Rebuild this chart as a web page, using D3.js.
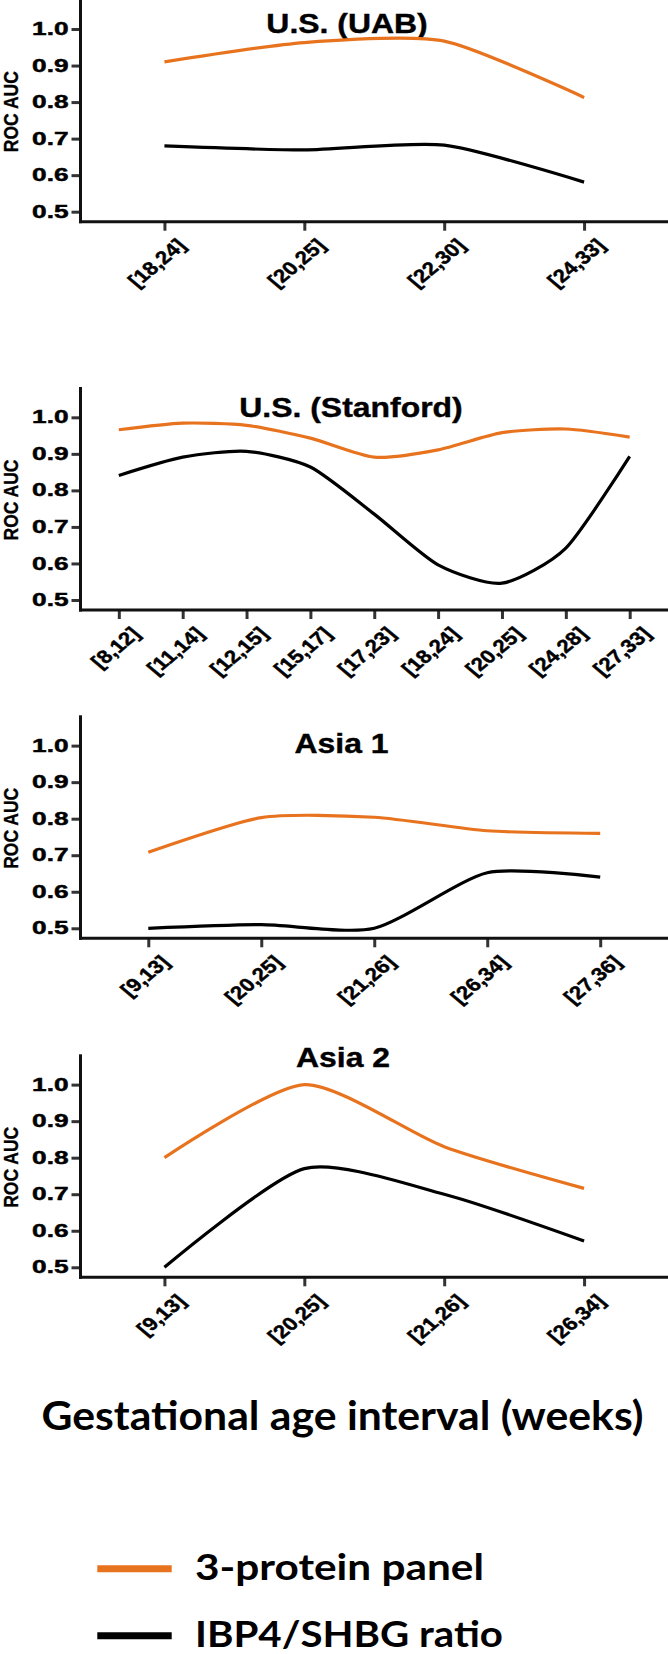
<!DOCTYPE html>
<html>
<head>
<meta charset="utf-8">
<script src="https://cdnjs.cloudflare.com/ajax/libs/d3/7.8.5/d3.min.js"></script>
<style>
  html, body { margin: 0; padding: 0; background: #fff; }
  svg { display: block; }
</style>
</head>
<body>
<div id="chart"></div>
<script>
// series
const seriesNames = ['3-protein panel', 'IBP4/SHBG ratio'];
const seriesColors = ['#E8731E', '#000000'];

// U.S. (UAB)
const uabIntervals = ['[18,24]', '[20,25]', '[22,30]', '[24,33]'];
const uabPanel = [0.91, 0.963, 0.967, 0.812];
const uabRatio = [0.68, 0.669, 0.682, 0.581];

// U.S. (Stanford)
const stanfordIntervals = ['[8,12]', '[11,14]', '[12,15]', '[15,17]', '[17,23]', '[18,24]', '[20,25]', '[24,28]', '[27,33]'];
const stanfordPanel = [0.966, 0.984, 0.978, 0.943, 0.891, 0.911, 0.958, 0.968, 0.946];
const stanfordRatio = [0.841, 0.891, 0.907, 0.864, 0.735, 0.596, 0.546, 0.642, 0.893];

// Asia 1
const asia1Intervals = ['[9,13]', '[20,25]', '[21,26]', '[26,34]', '[27,36]'];
const asia1Panel = [0.708, 0.803, 0.804, 0.767, 0.760];
const asia1Ratio = [0.50, 0.51, 0.50, 0.652, 0.640];

// Asia 2
const asia2Intervals = ['[9,13]', '[20,25]', '[21,26]', '[26,34]'];
const asia2Panel = [0.80, 1.00, 0.83, 0.716];
const asia2Ratio = [0.50, 0.77, 0.70, 0.572];

const panelTitles = ['U.S. (UAB)', 'U.S. (Stanford)', 'Asia 1', 'Asia 2'];
const yTicks = [0.5, 0.6, 0.7, 0.8, 0.9, 1.0];
const yDomain = [0.4726, 1.083];
const yLabel = 'ROC AUC';
const xLabel = 'Gestational age interval (weeks)';

const config = {
  width: 668,
  height: 1654,
  axisX: 80.5,
  axisRight: 668,
  plotHeight: 223,
  font: "'Liberation Sans', Arial, Helvetica, sans-serif",
  bigFont: "Lato, 'Open Sans', sans-serif"
};

const panels = [
  {title: panelTitles[0], cats: uabIntervals, values: [uabPanel, uabRatio], bottom: 221.7, titleX: 347, titleY: 33},
  {title: panelTitles[1], cats: stanfordIntervals, values: [stanfordPanel, stanfordRatio], bottom: 610, titleX: 351, titleY: 416.7},
  {title: panelTitles[2], cats: asia1Intervals, values: [asia1Panel, asia1Ratio], bottom: 938.3, titleX: 341.5, titleY: 753.3},
  {title: panelTitles[3], cats: asia2Intervals, values: [asia2Panel, asia2Ratio], bottom: 1277.3, titleX: 343, titleY: 1067.3}
];

const svg = d3.select('#chart').append('svg')
  .attr('width', config.width)
  .attr('height', config.height)
  .attr('viewBox', `0 0 ${config.width} ${config.height}`);

function boldText(sel, size) {
  return sel
    .attr('fill', '#000')
    .attr('stroke', '#000')
    .attr('stroke-width', 0.45)
    .style('font-family', config.font)
    .style('font-weight', 'bold')
    .style('font-size', size);
}

function drawPanel(p) {
  const top = p.bottom - config.plotHeight;
  const x = d3.scalePoint()
    .domain(p.cats)
    .range([config.axisX, config.axisRight])
    .padding(0.6);
  const y = d3.scaleLinear()
    .domain(yDomain)
    .range([p.bottom, top]);

  const g = svg.append('g');

  // y axis ticks + labels
  const yAxis = g.append('g')
    .attr('transform', `translate(${config.axisX},0)`)
    .call(d3.axisLeft(y).tickValues(yTicks).tickSize(9).tickPadding(2).tickFormat(d3.format('.1f')));
  yAxis.select('.domain').remove();
  yAxis.selectAll('.tick line').attr('stroke', '#333').attr('stroke-width', 3);
  boldText(yAxis.selectAll('.tick text'), '17.5px')
    .attr('x', -12 / 1.5)
    .attr('transform', 'scale(1.5,1)');

  // x axis ticks + labels
  const xAxis = g.append('g')
    .attr('transform', `translate(0,${p.bottom})`)
    .call(d3.axisBottom(x).tickSize(9));
  xAxis.select('.domain').remove();
  xAxis.selectAll('.tick line').attr('stroke', '#333').attr('stroke-width', 3);
  boldText(xAxis.selectAll('.tick text'), '18.5px')
    .attr('x', 0)
    .attr('y', 0)
    .attr('dy', 0)
    .attr('text-anchor', 'end')
    .attr('transform', 'translate(22,25) scale(1.2,1) rotate(-45)');

  // axis lines
  g.append('line')
    .attr('x1', config.axisX).attr('x2', config.axisX)
    .attr('y1', top).attr('y2', p.bottom + 1.5)
    .attr('stroke', '#111').attr('stroke-width', 3);
  g.append('line')
    .attr('x1', config.axisX - 1.5).attr('x2', config.axisRight)
    .attr('y1', p.bottom).attr('y2', p.bottom)
    .attr('stroke', '#111').attr('stroke-width', 3);

  // y label
  boldText(g.append('text'), '17.5px')
    .attr('transform', `translate(18,${p.bottom - 110}) scale(1.2,1) rotate(-90)`)
    .attr('text-anchor', 'middle')
    .attr('stroke-width', 0.3)
    .text(yLabel);

  // title
  boldText(g.append('text'), '28px')
    .attr('transform', `translate(${p.titleX},${p.titleY}) scale(1.14,1)`)
    .attr('text-anchor', 'middle')
    .attr('stroke-width', 0.4)
    .text(p.title);

  // lines
  const line = d3.line()
    .x((d, i) => x(p.cats[i]))
    .y(d => y(d))
    .curve(d3.curveCardinal.tension(0.3));
  p.values.forEach((vals, k) => {
    g.append('path')
      .datum(vals)
      .attr('fill', 'none')
      .attr('stroke', seriesColors[k])
      .attr('stroke-width', 3.2)
      .attr('stroke-linecap', 'butt')
      .attr('d', line);
  });
}

panels.forEach(drawPanel);

// shared x label
svg.append('text')
  .attr('x', 342.5)
  .attr('y', 1430)
  .attr('text-anchor', 'middle')
  .attr('textLength', 602)
  .attr('lengthAdjust', 'spacingAndGlyphs')
  .style('font-family', config.bigFont)
  .style('font-weight', 'bold')
  .style('font-size', '39.5px')
  .text(xLabel);

// legend
const legendY = [1568.7, 1635.7];
const legendTextLen = [289, 308];
seriesNames.forEach((name, k) => {
  svg.append('line')
    .attr('x1', 97.3).attr('x2', 171.7)
    .attr('y1', legendY[k]).attr('y2', legendY[k])
    .attr('stroke', seriesColors[k])
    .attr('stroke-width', 7);
  svg.append('text')
    .attr('x', 195)
    .attr('y', legendY[k] + 11.3)
    .attr('textLength', legendTextLen[k])
    .attr('lengthAdjust', 'spacingAndGlyphs')
    .style('font-family', config.bigFont)
    .style('font-weight', 'bold')
    .style('font-size', '37px')
    .text(name);
});
</script>
</body>
</html>
